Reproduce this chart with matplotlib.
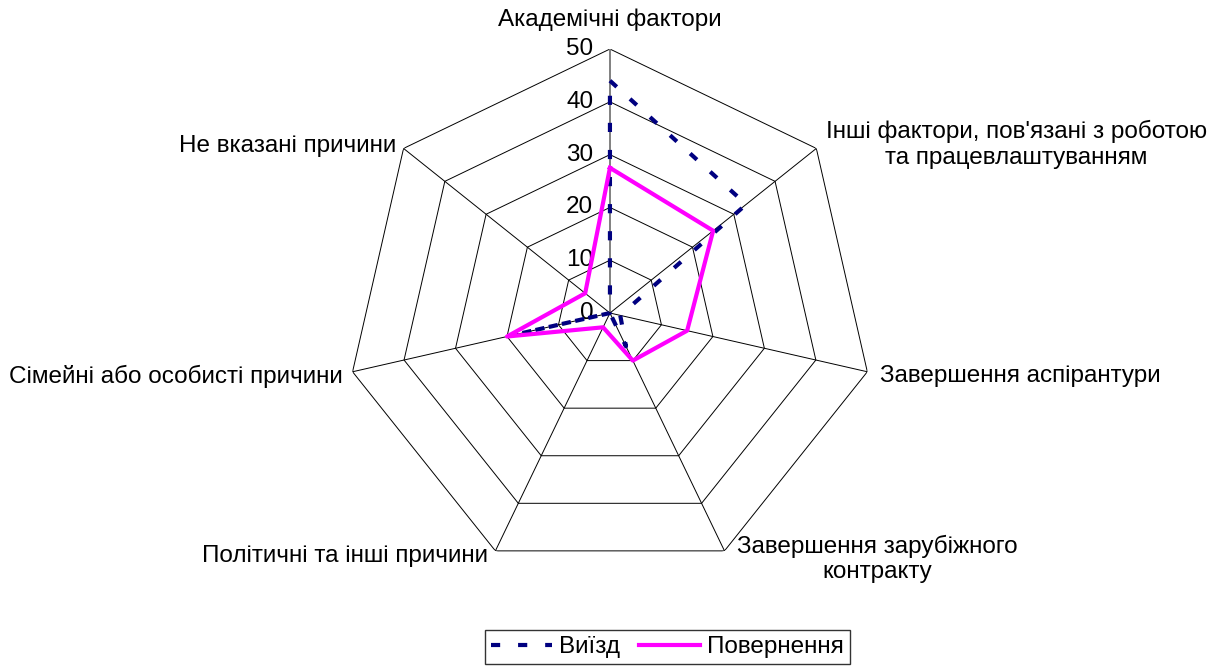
import numpy as np
import matplotlib
matplotlib.use("Agg")
import matplotlib.pyplot as plt

categories = [
    "Академічні фактори",
    "Інші фактори, пов'язані з роботою\nта працевлаштуванням",
    "Завершення аспірантури",
    "Завершення зарубіжного\nконтракту",
    "Політичні та інші причини",
    "Сімейні або особисті причини",
    "Не вказані причини",
]
departure = [44, 33, 2, 7, 0, 20, 0]      # Виїзд
returning = [27.5, 25, 15, 10, 3, 20, 6]  # Повернення
ticks = [0, 10, 20, 30, 40, 50]
series_names = ["Виїзд", "Повернення"]

plt.rcParams['font.family'] = ['Liberation Sans', 'DejaVu Sans']
FS = 17.5

fig = plt.figure(figsize=(12.16, 6.68), dpi=100)
ax = fig.add_axes([0.2845, 0.1362, 0.4342, 0.7904], projection='polar')
ax.set_theta_zero_location('N')
ax.set_theta_direction(-1)
ax.set_ylim(0, 50)
ax.set_axis_off()

n = len(categories)
theta = np.arange(n) * 2 * np.pi / n
theta_c = np.append(theta, theta[0])

# grid rings
for t in ticks[1:]:
    ax.plot(theta_c, [t] * (n + 1), color='black', lw=0.7, zorder=1)
# spokes
for i, th in enumerate(theta):
    ax.plot([th, th], [0, 50], color='#808080' if i == 0 else 'black',
            lw=1.4 if i == 0 else 0.7, zorder=1)

# tick labels
for t in ticks:
    ax.annotate(str(t), xy=(0, t), xytext=(-12, 0), textcoords='offset points',
                ha='right', va='center', fontsize=FS)

# category labels
offsets = [(0, 21, 'center'), (7, 3, 'left'), (9, -3, 'left'), (9, -6, 'left'),
           (-5, -4, 'right'), (-7, -3, 'right'), (-5, 2, 'right')]
for th, lab, (dx, dy, ha) in zip(theta, categories, offsets):
    ax.annotate(lab, xy=(th, 50), xytext=(dx, dy), textcoords='offset points',
                ha=ha, va='center', fontsize=FS, multialignment='center')

l1, = ax.plot(theta_c, departure + departure[:1], color='#000080', lw=3,
              linestyle=(0, (2.2, 4.3)), dash_capstyle='butt', zorder=3,
              label=series_names[0])
l2, = ax.plot(theta_c, returning + returning[:1], color='#FF00FF', lw=3,
              zorder=4, label=series_names[1])

leg = fig.legend(handles=[l1, l2], loc='center', bbox_to_anchor=(0.549, 0.0314),
                 ncol=2, fontsize=FS, frameon=True, fancybox=False,
                 edgecolor='black', handlelength=2.5, handletextpad=0.3,
                 columnspacing=0.8, borderpad=0.25)
leg.get_frame().set_linewidth(1.0)

fig.savefig('out.png', dpi=100)
